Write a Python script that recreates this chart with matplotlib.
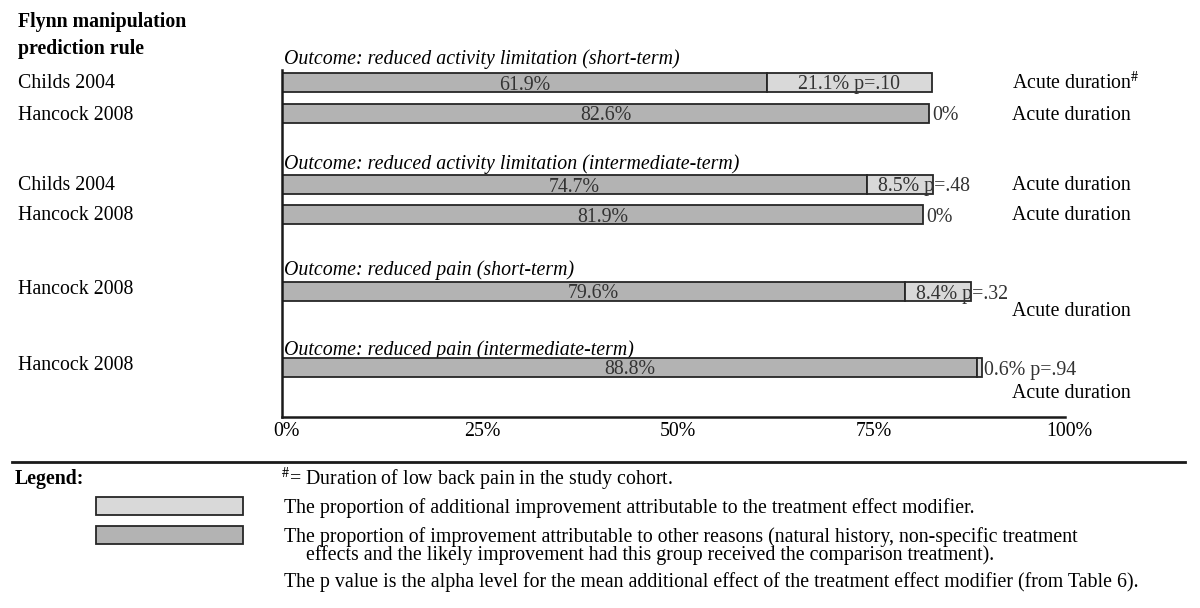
import matplotlib.pyplot as plt
from matplotlib.patches import Rectangle

plt.rcParams['font.family'] = ['Liberation Serif', 'DejaVu Serif']
plt.rcParams['mathtext.fontset'] = 'stix'

# data
studies = ['Childs 2004', 'Hancock 2008', 'Childs 2004', 'Hancock 2008',
           'Hancock 2008', 'Hancock 2008']
other = [61.9, 82.6, 74.7, 81.9, 79.6, 88.8]
modifier = [21.1, 0.0, 8.5, 0.0, 8.4, 0.6]
p_values = ['p=.10', '', 'p=.48', '', 'p=.32', 'p=.94']
duration = ['Acute duration$^{\\#}$', 'Acute duration', 'Acute duration',
            'Acute duration', 'Acute duration', 'Acute duration']
outcomes = ['Outcome: reduced activity limitation (short-term)',
            'Outcome: reduced activity limitation (intermediate-term)',
            'Outcome: reduced pain (short-term)',
            'Outcome: reduced pain (intermediate-term)']
ticks = [0, 25, 50, 75, 100]

# layout (pixel rows, top = 0)
bar_y = [82, 113, 184, 214, 291, 367]
study_y = [84, 115, 186, 215, 289, 366]
dur_y = [83, 115, 186, 216, 312, 393]
outcome_y = [59, 164, 270, 350]
bar_h = 19

dark = '#b3b3b3'
light = '#d9d9d9'
edge = '#262626'
fs = 14.3

fig = plt.figure(figsize=(12, 6.08), dpi=100)
lay = fig.add_axes([0, 0, 1, 1])
lay.set_xlim(0, 1200)
lay.set_ylim(608, 0)
lay.axis('off')

ax = fig.add_axes([282 / 1200, 0, 783 / 1200, 1])
ax.set_xlim(0, 100)
ax.set_ylim(608, 0)
ax.axis('off')

# axes lines
ax.plot([0, 0], [70, 417], color='#1a1a1a', lw=1.8, clip_on=False)
ax.plot([0, 100], [417, 417], color='#1a1a1a', lw=1.8, clip_on=False)
for t in ticks:
    ax.text(t + 0.6, 431, f'{t}%', ha='center', va='center', fontsize=fs)

for i in range(len(other)):
    y = bar_y[i]
    ax.barh(y, other[i], height=bar_h, color=dark, edgecolor=edge, lw=1.3)
    ax.text(other[i] / 2, y + 3, f'{other[i]}%', ha='center', va='center',
            fontsize=fs, color='#333333')
    end = other[i] + modifier[i]
    if modifier[i] > 0:
        ax.barh(y, modifier[i], left=other[i], height=bar_h, color=light,
                edgecolor=edge, lw=1.3)
        lab = f'{modifier[i]}% {p_values[i]}'
        if modifier[i] > 15:
            ax.text(other[i] + modifier[i] / 2, y + 3, lab, ha='center',
                    va='center', fontsize=fs, color='#333333')
        elif modifier[i] > 3:
            ax.text(other[i] + 1.4, y + 3, lab, ha='left', va='center',
                    fontsize=fs, color='#333333')
        else:
            ax.text(end + 0.3, y + 3, lab, ha='left', va='center',
                    fontsize=fs, color='#333333')
    else:
        ax.text(end + 0.4, y + 3, '0%', ha='left', va='center', fontsize=fs,
                color='#333333')
    lay.text(18, study_y[i], studies[i], ha='left', va='center', fontsize=fs)
    lay.text(1012, dur_y[i], duration[i], ha='left', va='center', fontsize=fs)

for k, o in enumerate(outcomes):
    lay.text(284, outcome_y[k], o, ha='left', va='center', fontsize=fs,
             style='italic')

lay.text(18, 22, 'Flynn manipulation', ha='left', va='center', fontsize=fs,
         weight='bold')
lay.text(18, 49, 'prediction rule', ha='left', va='center', fontsize=fs,
         weight='bold')

# legend
lay.plot([12, 1185], [462, 462], color='#1a1a1a', lw=2)
lay.text(15, 479, 'Legend:', ha='left', va='center', fontsize=fs,
         weight='bold')
lay.add_patch(Rectangle((96, 497), 147, 18, facecolor=light, edgecolor=edge,
                        lw=1.3))
lay.add_patch(Rectangle((96, 526), 147, 18, facecolor=dark, edgecolor=edge,
                        lw=1.3))
lay.text(281, 479, '$^{\\#}$= Duration of low back pain in the study cohort.',
         ha='left', va='center', fontsize=fs)
lay.text(284, 508, 'The proportion of additional improvement attributable to '
         'the treatment effect modifier.', ha='left', va='center', fontsize=fs)
lay.text(284, 537, 'The proportion of improvement attributable to other '
         'reasons (natural history, non-specific treatment',
         ha='left', va='center', fontsize=fs)
lay.text(306, 555, 'effects and the likely improvement had this group '
         'received the comparison treatment).', ha='left', va='center',
         fontsize=fs)
lay.text(284, 582, 'The p value is the alpha level for the mean additional '
         'effect of the treatment effect modifier (from Table 6).',
         ha='left', va='center', fontsize=fs)

fig.savefig('out.png', dpi=100, facecolor='white')
